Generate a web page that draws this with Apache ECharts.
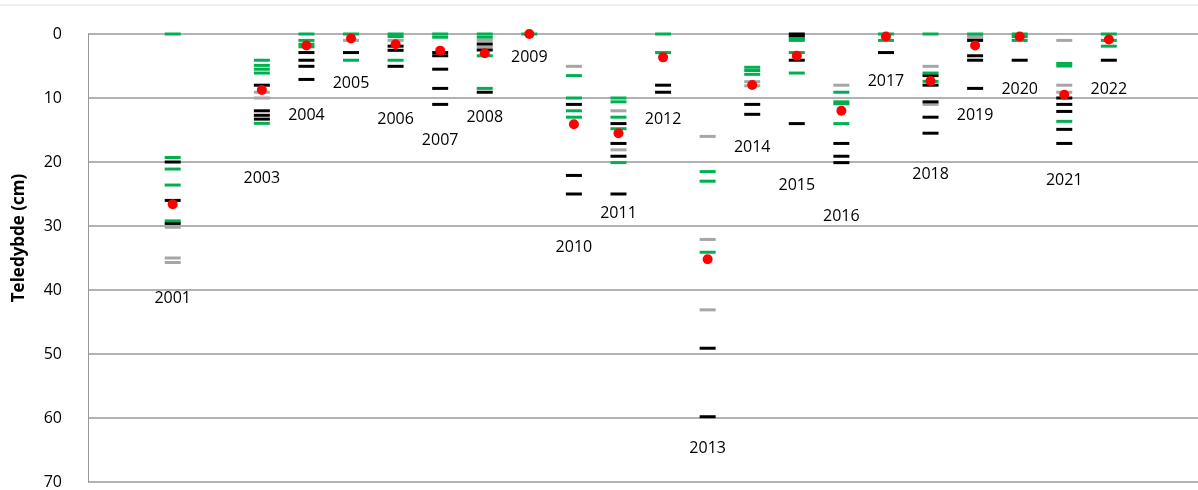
<!DOCTYPE html>
<html><head><meta charset="utf-8">
<script src="https://cdn.jsdelivr.net/npm/echarts@6/dist/echarts.min.js"></script>
<style>html,body{margin:0;padding:0;background:#fff}#c{width:1198px;height:490px}</style>
</head><body><div id="c"></div>
<script>
const yTicks=[0,10,20,30,40,50,60,70];
const black=[[2001,20.0],[2001,26.0],[2001,29.6],[2003,8.0],[2003,12.0],[2003,12.7],[2003,13.3],
[2004,2.9],[2004,4.1],[2004,5.05],[2004,7.1],[2005,2.9],[2006,1.9],[2006,2.55],[2006,5.05],
[2007,2.9],[2007,3.4],[2007,5.5],[2007,8.5],[2007,11.0],[2008,1.56],[2008,2.5],[2008,9.1],
[2010,11.0],[2010,22.1],[2010,25.0],[2011,14.0],[2011,17.1],[2011,19.1],[2011,25.0],
[2012,8.0],[2012,9.1],[2013,49.1],[2013,59.8],[2014,11.0],[2014,12.55],
[2015,0],[2015,0.4],[2015,4.1],[2015,14.0],[2016,17.1],[2016,19.1],[2016,20.1],
[2017,2.9],[2018,6.5],[2018,8.0],[2018,10.6],[2018,13.0],[2018,15.5],
[2019,1.0],[2019,3.4],[2019,4.1],[2019,8.5],[2020,4.1],
[2021,10.0],[2021,11.0],[2021,12.1],[2021,14.9],[2021,17.1],[2022,4.1]];
const gray=[[2001,30.2],[2001,35.0],[2001,35.7],[2003,9.1],[2003,10.0],[2005,1.0],[2006,1.0],
[2008,1.0],[2008,2.0],[2010,5.05],[2011,12.0],[2011,18.1],[2013,16.0],[2013,32.1],[2013,43.1],
[2014,7.45],[2014,8.1],[2016,8.0],[2018,5.05],[2018,11.0],[2019,0.4],[2019,0.7],
[2021,1.0],[2021,8.0],[2021,9.1]];
const green=[[2001,0],[2001,19.3],[2001,21.1],[2001,23.6],[2001,29.2],
[2003,4.1],[2003,4.9],[2003,5.5],[2003,6.1],[2003,13.96],
[2004,0],[2004,1.0],[2004,1.6],[2004,2.0],[2005,0],[2005,4.1],[2006,0],[2006,0.4],[2006,4.1],
[2007,0],[2007,0.5],[2008,0],[2008,0.5],[2008,3.4],[2008,8.5],[2009,0],
[2010,6.5],[2010,10.0],[2010,12.0],[2010,13.0],[2011,10.0],[2011,10.6],[2011,13.0],[2011,14.8],[2011,20.1],
[2012,0],[2012,2.9],[2013,21.5],[2013,23.0],[2013,34.1],[2014,5.2],[2014,5.7],[2014,6.3],
[2015,0.7],[2015,1.0],[2015,2.9],[2015,6.1],[2016,9.1],[2016,10.6],[2016,10.9],[2016,14.0],
[2017,0],[2017,1.0],[2018,0],[2018,6.1],[2018,7.4],[2019,0],[2020,0],[2020,0.4],[2020,1.0],
[2021,4.6],[2021,5.0],[2021,13.65],[2022,0],[2022,1.0],[2022,1.9]];
const mean=[[2001,26.6],[2003,8.75],[2004,1.8],[2005,0.7],[2006,1.6],[2007,2.6],[2008,3.0],[2009,0],
[2010,14.1],[2011,15.5],[2012,3.65],[2013,35.2],[2014,7.97],[2015,3.4],[2016,12.0],[2017,0.4],
[2018,7.35],[2019,1.8],[2020,0.4],[2021,9.5],[2022,0.85]];
const labels=[[2001,41.3],[2003,22.5],[2004,12.8],[2005,7.8],[2006,13.4],[2007,16.7],[2008,13.1],[2009,3.6],
[2010,33.4],[2011,28.1],[2012,13.3],[2013,64.7],[2014,17.8],[2015,23.6],[2016,28.5],[2017,7.4],
[2018,22.0],[2019,12.7],[2020,8.6],[2021,22.9],[2022,8.6]];
const dash=(d,c)=>({type:'scatter',data:d,symbol:'rect',symbolSize:[16,3],itemStyle:{color:c,opacity:1},z:3,silent:true});
const chart=echarts.init(document.getElementById('c'));
chart.setOption({
animation:false,
grid:{left:88,right:0,top:34,bottom:8},
xAxis:{type:'value',min:1999.1,max:2024,show:false},
yAxis:{type:'value',inverse:true,min:0,max:70,interval:10,
 name:'Teledybde (cm)',nameLocation:'middle',nameGap:60,nameRotate:90,
 nameTextStyle:{fontFamily:'Open Sans',fontSize:17,fontWeight:'bold',color:'#000',padding:[0,0,0,40]},
 axisLabel:{fontFamily:'Open Sans',fontSize:16,color:'#000',margin:26,formatter:v=>yTicks.includes(v)?v:''},
 axisLine:{show:true,lineStyle:{color:'#999'}},axisTick:{show:false},
 splitLine:{lineStyle:{color:'#999',width:1.5}}},
graphic:[{type:'line',shape:{x1:0,y1:5,x2:1198,y2:5},style:{stroke:'#ddd',lineWidth:1}}],
series:[
{type:'scatter',symbolSize:0,z:2,silent:true,itemStyle:{opacity:1},
 data:labels.map(l=>l[0]===2003?{value:l,label:{backgroundColor:'#fff',padding:[2,24]}}:l),
 label:{show:true,position:'inside',formatter:p=>p.value[0],fontFamily:'Open Sans',fontSize:16,color:'#000',opacity:1},
 labelLayout:{hideOverlap:false}},
dash(gray,'#a6a6a6'),dash(black,'#000'),dash(green,'#00b050'),
{type:'scatter',data:mean,symbol:'circle',symbolSize:10,itemStyle:{color:'#ff0000',opacity:1},z:4,silent:true}
]});
</script></body></html>
